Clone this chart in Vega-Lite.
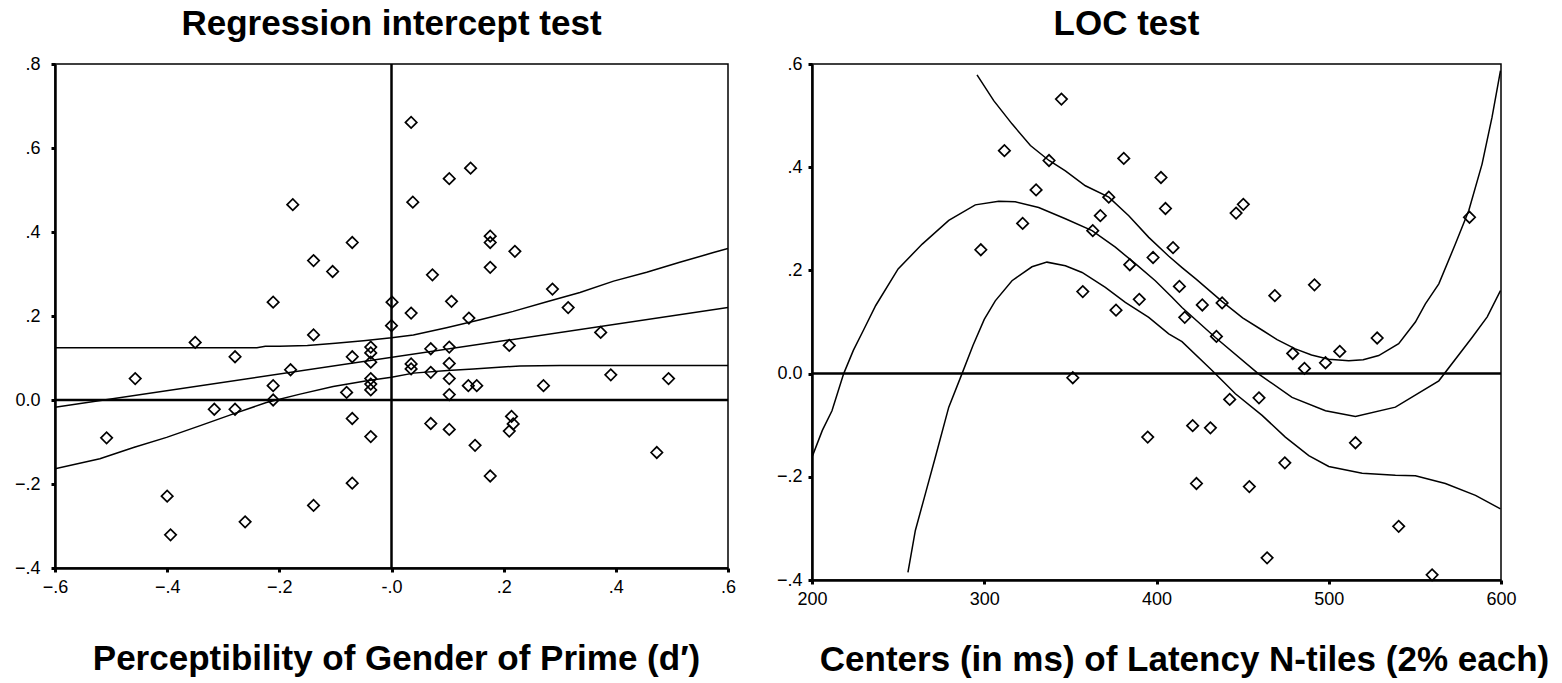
{
  "$schema": "https://vega.github.io/schema/vega-lite/v6.json",
  "padding": {"left": 13, "top": 6, "right": 0, "bottom": 0},
  "spacing": 38,
  "config": {
    "font": "Liberation Sans",
    "view": {"stroke": "black", "strokeWidth": 1.5},
    "axis": {
      "grid": false, "domainColor": "black", "domainWidth": 2.5,
      "tickColor": "black", "tickWidth": 3, "tickSize": 4,
      "labelFontSize": 18, "labelColor": "black", "labelPadding": 6,
      "labelFlush": false, "labelOverlap": false,
      "titleFontSize": 35, "titleFontWeight": "bold", "titleColor": "black"
    },
    "title": {"fontSize": 35, "fontWeight": "bold", "color": "black", "offset": 13}
  },
  "datasets": {
    "leftPts": [
      {"x": -0.176, "y": 0.465}, {"x": -0.139, "y": 0.332}, {"x": -0.105, "y": 0.306}, {"x": -0.070, "y": 0.375},
      {"x": -0.211, "y": 0.233}, {"x": -0.139, "y": 0.155}, {"x": -0.350, "y": 0.137}, {"x": 0.001, "y": 0.233},
      {"x": 0.000, "y": 0.177}, {"x": -0.037, "y": 0.126}, {"x": 0.035, "y": 0.661}, {"x": 0.103, "y": 0.527},
      {"x": 0.141, "y": 0.552}, {"x": 0.038, "y": 0.471}, {"x": 0.176, "y": 0.390}, {"x": 0.176, "y": 0.375},
      {"x": 0.220, "y": 0.354}, {"x": 0.176, "y": 0.316}, {"x": 0.073, "y": 0.298}, {"x": 0.287, "y": 0.264},
      {"x": 0.107, "y": 0.235}, {"x": 0.315, "y": 0.220}, {"x": 0.035, "y": 0.207}, {"x": 0.138, "y": 0.195},
      {"x": 0.373, "y": 0.161}, {"x": 0.070, "y": 0.122}, {"x": 0.103, "y": 0.126}, {"x": 0.210, "y": 0.130},
      {"x": 0.035, "y": 0.086}, {"x": 0.035, "y": 0.074}, {"x": 0.103, "y": 0.087}, {"x": 0.070, "y": 0.066},
      {"x": 0.103, "y": 0.051}, {"x": 0.137, "y": 0.034}, {"x": 0.152, "y": 0.034}, {"x": 0.271, "y": 0.034},
      {"x": 0.391, "y": 0.060}, {"x": 0.494, "y": 0.051}, {"x": 0.103, "y": 0.013}, {"x": 0.070, "y": -0.056},
      {"x": 0.103, "y": -0.070}, {"x": 0.214, "y": -0.039}, {"x": 0.217, "y": -0.057}, {"x": 0.210, "y": -0.074},
      {"x": 0.149, "y": -0.108}, {"x": 0.473, "y": -0.125}, {"x": 0.176, "y": -0.181}, {"x": -0.279, "y": 0.103},
      {"x": -0.457, "y": 0.051}, {"x": -0.180, "y": 0.072}, {"x": -0.211, "y": 0.034}, {"x": -0.211, "y": 0.000},
      {"x": -0.070, "y": 0.103}, {"x": -0.037, "y": 0.112}, {"x": -0.037, "y": 0.090}, {"x": -0.037, "y": 0.051},
      {"x": -0.037, "y": 0.038}, {"x": -0.037, "y": 0.024}, {"x": -0.080, "y": 0.018}, {"x": -0.316, "y": -0.022},
      {"x": -0.279, "y": -0.022}, {"x": -0.508, "y": -0.090}, {"x": -0.070, "y": -0.044}, {"x": -0.037, "y": -0.087},
      {"x": -0.070, "y": -0.198}, {"x": -0.139, "y": -0.251}, {"x": -0.400, "y": -0.229}, {"x": -0.394, "y": -0.321},
      {"x": -0.261, "y": -0.290}
    ],
    "leftLines": [
      {"curve": "fit", "x": -0.6, "y": -0.017}, {"curve": "fit", "x": 0.6, "y": 0.220},
      {"curve": "upper", "x": -0.6, "y": 0.1245}, {"curve": "upper", "x": -0.4, "y": 0.1245}, {"curve": "upper", "x": -0.24, "y": 0.1245},
      {"curve": "upper", "x": -0.225, "y": 0.128}, {"curve": "upper", "x": -0.2, "y": 0.128}, {"curve": "upper", "x": -0.15, "y": 0.130},
      {"curve": "upper", "x": -0.1, "y": 0.135}, {"curve": "upper", "x": -0.05, "y": 0.141}, {"curve": "upper", "x": 0.0, "y": 0.148},
      {"curve": "upper", "x": 0.039, "y": 0.155}, {"curve": "upper", "x": 0.098, "y": 0.172}, {"curve": "upper", "x": 0.158, "y": 0.191},
      {"curve": "upper", "x": 0.217, "y": 0.211}, {"curve": "upper", "x": 0.277, "y": 0.234}, {"curve": "upper", "x": 0.336, "y": 0.256},
      {"curve": "upper", "x": 0.396, "y": 0.283}, {"curve": "upper", "x": 0.455, "y": 0.304}, {"curve": "upper", "x": 0.514, "y": 0.328},
      {"curve": "upper", "x": 0.574, "y": 0.351}, {"curve": "upper", "x": 0.6, "y": 0.361},
      {"curve": "lower", "x": -0.6, "y": -0.164}, {"curve": "lower", "x": -0.52, "y": -0.140}, {"curve": "lower", "x": -0.46, "y": -0.113},
      {"curve": "lower", "x": -0.401, "y": -0.089}, {"curve": "lower", "x": -0.341, "y": -0.061}, {"curve": "lower", "x": -0.282, "y": -0.033},
      {"curve": "lower", "x": -0.223, "y": -0.006}, {"curve": "lower", "x": -0.163, "y": 0.014}, {"curve": "lower", "x": -0.104, "y": 0.032},
      {"curve": "lower", "x": -0.044, "y": 0.046}, {"curve": "lower", "x": 0.0, "y": 0.054}, {"curve": "lower", "x": 0.039, "y": 0.064},
      {"curve": "lower", "x": 0.1, "y": 0.070}, {"curve": "lower", "x": 0.146, "y": 0.074}, {"curve": "lower", "x": 0.229, "y": 0.081},
      {"curve": "lower", "x": 0.3, "y": 0.082}, {"curve": "lower", "x": 0.6, "y": 0.082}
    ],
    "rightPts": [
      {"x": 344.8, "y": 0.532}, {"x": 311.7, "y": 0.432}, {"x": 337.6, "y": 0.413}, {"x": 381.0, "y": 0.417},
      {"x": 402.6, "y": 0.380}, {"x": 330.1, "y": 0.356}, {"x": 372.3, "y": 0.342}, {"x": 405.2, "y": 0.320},
      {"x": 367.4, "y": 0.306}, {"x": 322.3, "y": 0.291}, {"x": 363.0, "y": 0.277}, {"x": 409.6, "y": 0.244},
      {"x": 298.0, "y": 0.240}, {"x": 398.0, "y": 0.225}, {"x": 384.5, "y": 0.211}, {"x": 413.3, "y": 0.169},
      {"x": 357.2, "y": 0.159}, {"x": 390.0, "y": 0.144}, {"x": 376.5, "y": 0.123}, {"x": 446.2, "y": 0.311},
      {"x": 450.4, "y": 0.328}, {"x": 426.6, "y": 0.133}, {"x": 438.1, "y": 0.137}, {"x": 416.4, "y": 0.109},
      {"x": 434.8, "y": 0.072}, {"x": 468.7, "y": 0.151}, {"x": 491.7, "y": 0.172}, {"x": 581.7, "y": 0.303},
      {"x": 528.1, "y": 0.069}, {"x": 506.4, "y": 0.043}, {"x": 479.1, "y": 0.039}, {"x": 498.1, "y": 0.021},
      {"x": 485.9, "y": 0.010}, {"x": 442.5, "y": -0.050}, {"x": 459.5, "y": -0.047}, {"x": 421.0, "y": -0.101},
      {"x": 431.3, "y": -0.105}, {"x": 515.5, "y": -0.134}, {"x": 474.5, "y": -0.173}, {"x": 423.2, "y": -0.213},
      {"x": 453.9, "y": -0.219}, {"x": 540.6, "y": -0.296}, {"x": 464.2, "y": -0.357}, {"x": 560.0, "y": -0.390},
      {"x": 351.4, "y": -0.008}, {"x": 394.9, "y": -0.123}
    ],
    "rightLines": [
      {"curve": "upper", "x": 295.8, "y": 0.579}, {"curve": "upper", "x": 305.5, "y": 0.529}, {"curve": "upper", "x": 316.1, "y": 0.484},
      {"curve": "upper", "x": 326.8, "y": 0.442}, {"curve": "upper", "x": 337.6, "y": 0.413}, {"curve": "upper", "x": 347.1, "y": 0.393},
      {"curve": "upper", "x": 358.7, "y": 0.364}, {"curve": "upper", "x": 372.3, "y": 0.342}, {"curve": "upper", "x": 383.9, "y": 0.306},
      {"curve": "upper", "x": 395.5, "y": 0.264}, {"curve": "upper", "x": 407.0, "y": 0.228}, {"curve": "upper", "x": 415.0, "y": 0.205},
      {"curve": "upper", "x": 423.0, "y": 0.183}, {"curve": "upper", "x": 438.0, "y": 0.140}, {"curve": "upper", "x": 450.0, "y": 0.108},
      {"curve": "upper", "x": 461.0, "y": 0.085}, {"curve": "upper", "x": 470.0, "y": 0.066}, {"curve": "upper", "x": 480.6, "y": 0.048},
      {"curve": "upper", "x": 490.0, "y": 0.036}, {"curve": "upper", "x": 500.0, "y": 0.028}, {"curve": "upper", "x": 511.6, "y": 0.025},
      {"curve": "upper", "x": 520.0, "y": 0.027}, {"curve": "upper", "x": 529.0, "y": 0.035}, {"curve": "upper", "x": 540.6, "y": 0.058},
      {"curve": "upper", "x": 550.3, "y": 0.100}, {"curve": "upper", "x": 556.1, "y": 0.135}, {"curve": "upper", "x": 563.9, "y": 0.174},
      {"curve": "upper", "x": 573.5, "y": 0.251}, {"curve": "upper", "x": 581.3, "y": 0.316}, {"curve": "upper", "x": 589.0, "y": 0.406},
      {"curve": "upper", "x": 594.8, "y": 0.497}, {"curve": "upper", "x": 599.7, "y": 0.587},
      {"curve": "fit", "x": 200.0, "y": -0.162}, {"curve": "fit", "x": 206.0, "y": -0.110}, {"curve": "fit", "x": 211.6, "y": -0.072},
      {"curve": "fit", "x": 218.4, "y": 0.000}, {"curve": "fit", "x": 224.0, "y": 0.045}, {"curve": "fit", "x": 230.0, "y": 0.085},
      {"curve": "fit", "x": 237.0, "y": 0.132}, {"curve": "fit", "x": 250.0, "y": 0.203}, {"curve": "fit", "x": 264.0, "y": 0.251},
      {"curve": "fit", "x": 279.4, "y": 0.297}, {"curve": "fit", "x": 294.8, "y": 0.327}, {"curve": "fit", "x": 308.4, "y": 0.334},
      {"curve": "fit", "x": 318.0, "y": 0.333}, {"curve": "fit", "x": 331.6, "y": 0.322}, {"curve": "fit", "x": 347.1, "y": 0.300},
      {"curve": "fit", "x": 362.6, "y": 0.277}, {"curve": "fit", "x": 376.1, "y": 0.245}, {"curve": "fit", "x": 387.7, "y": 0.213},
      {"curve": "fit", "x": 399.3, "y": 0.180}, {"curve": "fit", "x": 409.0, "y": 0.148}, {"curve": "fit", "x": 414.8, "y": 0.128},
      {"curve": "fit", "x": 434.2, "y": 0.070}, {"curve": "fit", "x": 459.4, "y": -0.001}, {"curve": "fit", "x": 478.7, "y": -0.046},
      {"curve": "fit", "x": 498.1, "y": -0.072}, {"curve": "fit", "x": 515.5, "y": -0.083}, {"curve": "fit", "x": 538.7, "y": -0.065},
      {"curve": "fit", "x": 563.9, "y": -0.014}, {"curve": "fit", "x": 583.2, "y": 0.070}, {"curve": "fit", "x": 592.0, "y": 0.110},
      {"curve": "fit", "x": 599.7, "y": 0.161},
      {"curve": "lower", "x": 255.7, "y": -0.385}, {"curve": "lower", "x": 260.0, "y": -0.304}, {"curve": "lower", "x": 265.8, "y": -0.233},
      {"curve": "lower", "x": 271.6, "y": -0.162}, {"curve": "lower", "x": 279.4, "y": -0.065}, {"curve": "lower", "x": 287.1, "y": 0.000},
      {"curve": "lower", "x": 293.5, "y": 0.055}, {"curve": "lower", "x": 300.0, "y": 0.105}, {"curve": "lower", "x": 306.4, "y": 0.141},
      {"curve": "lower", "x": 316.1, "y": 0.180}, {"curve": "lower", "x": 327.7, "y": 0.207}, {"curve": "lower", "x": 336.4, "y": 0.216},
      {"curve": "lower", "x": 347.1, "y": 0.209}, {"curve": "lower", "x": 356.8, "y": 0.196}, {"curve": "lower", "x": 370.3, "y": 0.167},
      {"curve": "lower", "x": 381.9, "y": 0.138}, {"curve": "lower", "x": 395.5, "y": 0.109}, {"curve": "lower", "x": 407.1, "y": 0.077},
      {"curve": "lower", "x": 414.8, "y": 0.062}, {"curve": "lower", "x": 432.3, "y": 0.006}, {"curve": "lower", "x": 445.8, "y": -0.039},
      {"curve": "lower", "x": 461.3, "y": -0.081}, {"curve": "lower", "x": 474.8, "y": -0.123}, {"curve": "lower", "x": 488.4, "y": -0.159},
      {"curve": "lower", "x": 500.0, "y": -0.180}, {"curve": "lower", "x": 519.4, "y": -0.193}, {"curve": "lower", "x": 538.7, "y": -0.197},
      {"curve": "lower", "x": 550.3, "y": -0.198}, {"curve": "lower", "x": 567.7, "y": -0.213}, {"curve": "lower", "x": 585.2, "y": -0.236},
      {"curve": "lower", "x": 599.7, "y": -0.262}
    ]
  },
  "hconcat": [
    {
      "title": {"text": "Regression intercept test"},
      "width": 673,
      "height": 504,
      "encoding": {
        "x": {"field": "x", "type": "quantitative", "scale": {"domain": [-0.6, 0.6], "nice": false, "zero": false},
              "axis": {"values": [-0.6, -0.4, -0.2, 0, 0.2, 0.4, 0.6], "labelExpr": "datum.value == 0 ? '-.0' : replace(format(datum.value, '.1f'), '0.', '.')",
                       "title": "Perceptibility of Gender of Prime (d′)", "titlePadding": 45, "titleX": 341}},
        "y": {"field": "y", "type": "quantitative", "scale": {"domain": [-0.4, 0.8], "nice": false, "zero": false},
              "axis": {"values": [-0.4, -0.2, 0, 0.2, 0.4, 0.6, 0.8], "labelPadding": 11, "labelExpr": "datum.value == 0 ? '0.0' : replace(format(datum.value, '.1f'), '0.', '.')", "title": null}}
      },
      "layer": [
        {
          "data": {"name": "leftLines"},
          "mark": {"type": "line", "color": "black", "strokeWidth": 1.5, "clip": true},
          "encoding": {"detail": {"field": "curve"}}
        },
        {
          "data": {"name": "leftPts"},
          "mark": {"type": "point", "shape": "diamond", "filled": false, "stroke": "black", "strokeWidth": 1.7, "size": 130, "opacity": 1}
        },
        {
          "data": {"values": [{"x": -0.6, "y": 0, "line": "h"}, {"x": 0.6, "y": 0, "line": "h"}, {"x": 0, "y": -0.4, "line": "v"}, {"x": 0, "y": 0.8, "line": "v"}]},
          "mark": {"type": "line", "color": "black", "strokeWidth": 2.5},
          "encoding": {"detail": {"field": "line"}}
        }
      ]
    },
    {
      "title": {"text": "LOC test", "dx": -30},
      "width": 689,
      "height": 516,
      "encoding": {
        "x": {"field": "x", "type": "quantitative", "scale": {"domain": [200, 600], "nice": false, "zero": false},
              "axis": {"values": [200, 300, 400, 500, 600], "format": "d", "title": "Centers (in ms) of Latency N-tiles (2% each)", "titlePadding": 34, "titleX": 372}},
        "y": {"field": "y", "type": "quantitative", "scale": {"domain": [-0.4, 0.6], "nice": false, "zero": false},
              "axis": {"values": [-0.4, -0.2, 0, 0.2, 0.4, 0.6], "labelExpr": "datum.value == 0 ? '0.0' : replace(format(datum.value, '.1f'), '0.', '.')", "title": null}}
      },
      "layer": [
        {
          "data": {"name": "rightLines"},
          "mark": {"type": "line", "color": "black", "strokeWidth": 1.5, "clip": true},
          "encoding": {"detail": {"field": "curve"}}
        },
        {
          "data": {"name": "rightPts"},
          "mark": {"type": "point", "shape": "diamond", "filled": false, "stroke": "black", "strokeWidth": 1.7, "size": 130, "opacity": 1}
        },
        {
          "data": {"values": [{"x": 200, "y": 0}, {"x": 600, "y": 0}]},
          "mark": {"type": "line", "color": "black", "strokeWidth": 2.5}
        }
      ]
    }
  ]
}
